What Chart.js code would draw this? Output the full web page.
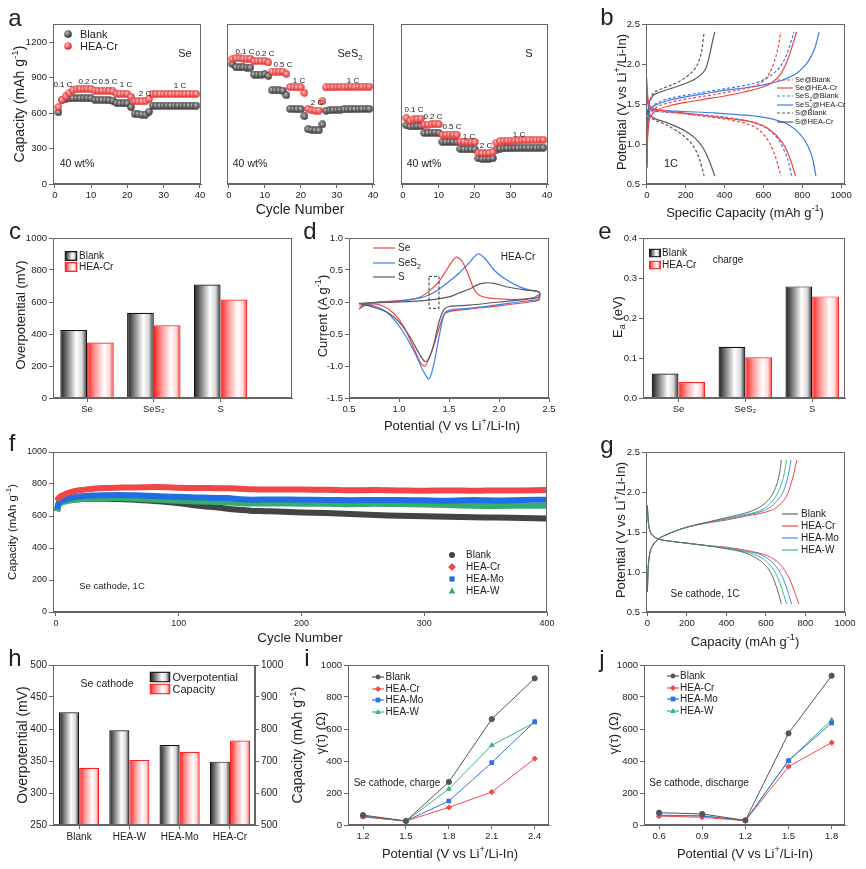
<!DOCTYPE html>
<html>
<head>
<meta charset="utf-8">
<title>HEA cathode figure</title>
<script src="https://cdn.jsdelivr.net/npm/chart.js@4.4.1/dist/chart.umd.min.js"></script>
<style>
  body { margin: 0; background: #fff; }
  #fig { position: relative; width: 866px; height: 869px; overflow: hidden; background: #fff;
         font-family: 'Liberation Sans', Arial, Helvetica, sans-serif; color: #222; }
  #fig canvas { position: absolute; }
  .t { position: absolute; white-space: nowrap; line-height: 1; transform: translate(-50%, -50%); }
  .t.rot { transform: translate(-50%, -50%) rotate(-90deg); }
  .t.left { transform: translate(0, -50%); }
  .t svg { display: block; }
  sup, sub { font-size: 70%; line-height: 0; }
</style>
</head>
<body>
<div id="fig"></div>
<script>
// ---------- data ----------
// a: rate capability (capacity vs cycle)
const rateCycles = [1,2,3,4,5,6,7,8,9,10,11,12,13,14,15,16,17,18,19,20,21,22,23,24,25,26,27,28,29,30,31,32,33,34,35,36,37,38,39];
const seBlank   = [607,714,723,725,727,728,728,727,727,726,714,712,712,711,710,705,686,684,684,683,652,596,592,589,588,613,663,663,664,664,664,664,664,664,664,664,664,664,664];
const seCr      = [652,714,742,770,795,803,805,805,806,806,792,790,790,791,792,785,765,764,764,763,740,702,700,700,701,720,763,763,763,763,763,763,763,763,763,763,763,763,763];
const ses2Blank = [1016,990,988,988,987,987,928,927,927,930,915,795,793,793,792,752,637,635,634,634,575,465,458,456,455,505,622,625,628,630,631,632,633,634,635,635,636,637,637];
const ses2Cr    = [1059,1066,1064,1063,1063,1062,1042,1042,1042,1042,1030,952,953,953,952,932,822,820,820,819,772,638,624,622,622,702,818,820,821,822,822,823,823,824,824,824,825,825,825];
const sBlank    = [497,488,488,490,490,432,433,435,436,432,356,357,357,357,355,296,295,294,294,293,217,213,212,213,218,292,300,302,303,304,305,305,306,306,306,307,307,308,308];
const sCr       = [559,536,548,551,553,503,503,506,511,505,418,418,419,419,417,360,358,357,356,355,265,262,262,263,270,350,362,364,366,367,368,369,370,371,372,372,373,374,375];

// b: charge / discharge profiles, [capacity, potential]
const bSeBlankC   = [[0,0.72],[3,1.05],[10,1.3],[25,1.4],[60,1.47],[120,1.52],[200,1.56],[300,1.6],[400,1.64],[500,1.69],[560,1.73],[600,1.79],[630,1.88],[655,2.02],[675,2.2],[690,2.4]];
const bSeCrC      = [[0,0.7],[3,1.0],[10,1.25],[25,1.36],[60,1.43],[120,1.48],[200,1.52],[300,1.56],[400,1.6],[500,1.65],[580,1.7],[640,1.76],[690,1.88],[725,2.05],[752,2.25],[770,2.4]];
const bSeS2BlankC = [[0,0.7],[3,1.1],[10,1.35],[25,1.45],[60,1.52],[120,1.57],[200,1.61],[300,1.65],[400,1.69],[500,1.73],[580,1.78],[640,1.86],[690,1.98],[725,2.15],[745,2.3],[758,2.4]];
const bSeS2CrC    = [[0,0.7],[3,1.1],[10,1.35],[25,1.45],[60,1.5],[120,1.55],[200,1.59],[300,1.63],[400,1.67],[500,1.7],[600,1.74],[700,1.8],[780,1.9],[830,2.03],[865,2.2],[887,2.4]];
const bSBlankC    = [[0,0.8],[3,1.2],[10,1.45],[25,1.6],[60,1.67],[120,1.73],[180,1.8],[220,1.87],[250,1.95],[270,2.05],[285,2.2],[295,2.4]];
const bSCrC       = [[0,0.75],[3,1.15],[10,1.45],[25,1.58],[60,1.64],[120,1.69],[180,1.74],[240,1.8],[280,1.87],[305,1.95],[322,2.1],[338,2.28],[350,2.4]];
const bSeBlankD   = [[0,1.72],[4,1.58],[12,1.48],[30,1.44],[80,1.41],[150,1.39],[250,1.36],[350,1.33],[450,1.29],[530,1.24],[580,1.17],[620,1.06],[650,0.92],[670,0.78],[690,0.6]];
const bSeCrD      = [[0,1.82],[4,1.62],[12,1.5],[30,1.45],[80,1.42],[150,1.4],[250,1.37],[350,1.34],[450,1.31],[550,1.27],[620,1.2],[670,1.1],[710,0.97],[740,0.8],[765,0.6]];
const bSeS2BlankD = [[0,1.6],[4,1.5],[12,1.45],[30,1.42],[80,1.4],[150,1.39],[250,1.37],[350,1.35],[450,1.32],[550,1.27],[620,1.19],[670,1.08],[705,0.93],[730,0.77],[745,0.6]];
const bSeS2CrD    = [[0,1.65],[4,1.52],[12,1.46],[30,1.43],[80,1.42],[150,1.41],[250,1.4],[350,1.39],[450,1.37],[550,1.35],[650,1.31],[730,1.24],[790,1.12],[830,0.97],[855,0.8],[870,0.6]];
const bSBlankD    = [[0,1.42],[5,1.37],[20,1.33],[50,1.29],[100,1.24],[150,1.17],[200,1.08],[240,0.97],[270,0.82],[295,0.6]];
const bSCrD       = [[0,1.45],[5,1.39],[20,1.35],[50,1.31],[100,1.27],[150,1.22],[200,1.16],[250,1.07],[290,0.95],[320,0.8],[350,0.6]];

// c, e: bars per cathode
const cathodes = ['Se', 'SeS\u2082', 'S'];
const overBlank = [425, 533, 709];
const overCr    = [347, 454, 615];
const eaBlank   = [0.061, 0.128, 0.279];
const eaCr      = [0.040, 0.102, 0.254];

// d: CV loops, [potential, current]
const cvSe   = [[0.6,-0.11],[0.65,-0.03],[0.8,0.0],[1.0,0.02],[1.2,0.07],[1.3,0.17],[1.4,0.32],[1.5,0.56],[1.57,0.70],[1.63,0.64],[1.7,0.40],[1.75,0.2],[1.8,0.11],[1.9,0.06],[2.0,0.05],[2.2,0.04],[2.35,0.07],[2.4,0.11],[2.4,0.03],[2.3,0.0],[2.0,-0.06],[1.7,-0.11],[1.5,-0.15],[1.45,-0.2],[1.4,-0.41],[1.35,-0.67],[1.3,-0.88],[1.26,-1.0],[1.22,-0.96],[1.15,-0.73],[1.05,-0.39],[0.95,-0.18],[0.85,-0.07],[0.75,-0.03],[0.65,-0.06],[0.6,-0.11]];
const cvSeS2 = [[0.6,-0.05],[0.8,0.0],[1.0,0.01],[1.2,0.06],[1.3,0.11],[1.4,0.2],[1.5,0.32],[1.6,0.45],[1.7,0.61],[1.79,0.75],[1.86,0.68],[1.95,0.5],[2.05,0.37],[2.2,0.24],[2.3,0.19],[2.4,0.15],[2.4,0.05],[2.3,0.02],[2.0,-0.04],[1.7,-0.1],[1.5,-0.13],[1.45,-0.2],[1.4,-0.55],[1.35,-0.96],[1.3,-1.2],[1.24,-1.07],[1.17,-0.83],[1.07,-0.54],[0.97,-0.31],[0.87,-0.15],[0.77,-0.07],[0.67,-0.04],[0.6,-0.05]];
const cvS    = [[0.6,-0.02],[1.0,0.0],[1.3,0.03],[1.5,0.08],[1.6,0.14],[1.7,0.2],[1.8,0.28],[1.87,0.3],[1.95,0.29],[2.1,0.23],[2.25,0.19],[2.4,0.16],[2.4,0.08],[2.2,0.03],[2.0,0.0],[1.7,-0.05],[1.5,-0.07],[1.45,-0.12],[1.4,-0.31],[1.35,-0.65],[1.3,-0.88],[1.26,-0.93],[1.2,-0.8],[1.1,-0.52],[1.0,-0.31],[0.9,-0.18],[0.8,-0.11],[0.7,-0.06],[0.6,-0.02]];
const cvBox  = [[1.3,0.4],[1.4,0.4],[1.4,-0.1],[1.3,-0.1],[1.3,0.4]];

// f: long cycling at 1C
const fCycles = [1,2,3,5,10,20,30,40,50,60,70,80,90,100,110,120,130,140,150,160,170,180,200,220,240,260,280,300,320,340,360,380,400];
const fBlank  = [630,672,685,693,700,706,708,708,706,703,699,694,688,680,670,661,655,645,638,632,630,628,622,618,612,606,602,598,595,592,590,587,584];
const fCr     = [695,710,718,728,745,762,770,775,777,778,779,781,780,776,775,775,774,774,770,767,766,766,765,764,761,762,760,758,760,758,760,760,762];
const fMo     = [645,680,690,697,710,723,728,730,731,730,728,725,722,720,717,715,713,712,705,702,703,703,702,700,699,700,700,698,696,700,697,700,702];
const fW      = [630,665,675,685,695,705,710,712,712,710,707,703,698,695,692,690,688,686,680,678,678,678,677,676,674,676,675,672,668,664,663,664,664];

// g: Se cathode profiles, [capacity, potential]
const gBlankC = [[0,0.75],[3,1.0],[10,1.2],[25,1.32],[50,1.4],[100,1.47],[150,1.52],[200,1.56],[300,1.62],[400,1.68],[500,1.74],[560,1.8],[600,1.87],[630,1.96],[655,2.1],[670,2.25],[678,2.4]];
const gWC     = [[0,0.75],[3,1.0],[10,1.2],[25,1.32],[50,1.4],[100,1.47],[150,1.52],[200,1.56],[300,1.62],[400,1.67],[500,1.72],[580,1.78],[630,1.88],[665,2.02],[690,2.2],[704,2.4]];
const gMoC    = [[0,0.75],[3,1.0],[10,1.2],[25,1.32],[50,1.4],[100,1.47],[150,1.52],[200,1.56],[300,1.62],[400,1.66],[500,1.71],[600,1.78],[650,1.87],[690,2.02],[712,2.2],[727,2.4]];
const gCrC    = [[0,0.75],[3,1.0],[10,1.2],[25,1.32],[50,1.4],[100,1.47],[150,1.52],[200,1.56],[300,1.61],[400,1.65],[500,1.7],[600,1.75],[660,1.82],[710,1.98],[738,2.2],[756,2.4]];
const gBlankD = [[0,1.83],[2,1.72],[6,1.6],[15,1.5],[30,1.45],[60,1.41],[100,1.39],[200,1.36],[300,1.33],[400,1.29],[480,1.25],[540,1.19],[590,1.1],[625,0.99],[648,0.85],[665,0.72],[678,0.6]];
const gWD     = [[0,1.83],[2,1.72],[6,1.6],[15,1.5],[30,1.45],[60,1.41],[100,1.39],[200,1.36],[300,1.33],[400,1.3],[480,1.26],[560,1.2],[615,1.1],[650,0.98],[672,0.85],[690,0.72],[704,0.6]];
const gMoD    = [[0,1.83],[2,1.72],[6,1.6],[15,1.5],[30,1.45],[60,1.41],[100,1.39],[200,1.36],[300,1.33],[400,1.3],[500,1.26],[580,1.21],[640,1.1],[675,0.98],[698,0.85],[715,0.72],[730,0.6]];
const gCrD    = [[0,1.83],[2,1.72],[6,1.6],[15,1.5],[30,1.45],[60,1.41],[100,1.39],[200,1.36],[300,1.33],[400,1.31],[520,1.26],[610,1.2],[670,1.1],[705,0.98],[730,0.85],[750,0.72],[766,0.6]];

// h: overpotential and capacity per catalyst
const hCats = ['Blank', 'HEA-W', 'HEA-Mo', 'HEA-Cr'];
const hOver = [426, 398, 375, 349];
const hCap  = [679, 703, 729, 764];

// i, j: DRT resistance vs potential
const iPot   = [1.2, 1.5, 1.8, 2.1, 2.4];
const iBlank = [62, 25, 269, 662, 917];
const iCr    = [52, 25, 110, 206, 415];
const iMo    = [56, 25, 150, 390, 646];
const iW     = [50, 25, 225, 498, 640];
const jPot   = [0.6, 0.9, 1.2, 1.5, 1.8];
const jBlank = [77, 69, 29, 573, 933];
const jCr    = [56, 48, 27, 365, 515];
const jMo    = [62, 56, 27, 402, 637];
const jW     = [58, 58, 28, 402, 656];

// ---------- style ----------
const FONT = "'Liberation Sans', Arial, Helvetica, sans-serif";
const AX = '#666';
const RED = '#f04646', BLUE = '#3b7ded', GRAY = '#5a5a5a', GREEN = '#35ad6c';
const K_STOPS = [[0, '#1c1c1c'], [0.25, '#7a7a7a'], [0.6, '#ffffff'], [0.82, '#d6d6d6'], [1, '#262626']];
const R_STOPS = [[0, '#ff1c1c'], [0.3, '#ff9a9a'], [0.65, '#ffffff'], [0.85, '#ffd4d4'], [1, '#ff2626']];

Chart.defaults.font.family = FONT;
const fig = document.getElementById('fig');
const P = {l: 60, t: 10, r: 24, b: 30};

// plot boxes on the page (plot-area edges)
const BOX = {
  a1: {l: 53, t: 24, r: 201, b: 184}, a2: {l: 227, t: 24, r: 374, b: 184}, a3: {l: 401, t: 24, r: 548, b: 184},
  b: {l: 646, t: 24, r: 845, b: 184},
  c: {l: 53, t: 238, r: 292, b: 398}, d: {l: 349, t: 238, r: 549, b: 398}, e: {l: 643, t: 238, r: 845, b: 398},
  f: {l: 53, t: 452, r: 547, b: 612}, g: {l: 646, t: 452, r: 845, b: 612},
  h: {l: 53, t: 665, r: 255, b: 825}, i: {l: 348, t: 665, r: 549, b: 825}, j: {l: 644, t: 665, r: 845, b: 825},
};

const frame = {
  id: 'frame',
  afterDraw(ch) {
    const a = ch.chartArea, c = ch.ctx;
    c.save();
    c.strokeStyle = AX; c.lineWidth = 1;
    c.strokeRect(Math.round(a.left) + 0.5, Math.round(a.top) + 0.5, Math.round(a.right - a.left) - 1, Math.round(a.bottom - a.top) - 1);
    c.restore();
  },
};

function axis(o) {
  return {
    type: 'linear', position: o.pos || 'bottom', min: o.min, max: o.max, offset: false,
    afterBuildTicks: s => { s.ticks = o.at.map(v => ({value: v})); },
    afterFit: s => {
      if (s.isHorizontal()) s.height = P.b;
      else s.width = o.size || P.l;
    },
    grid: {drawOnChartArea: false, offset: false, drawTicks: o.noTicks ? false : true, tickLength: 4, tickColor: AX},
    border: {color: AX, width: 1},
    ticks: {display: o.show !== false, autoSkip: false, maxRotation: 0, padding: 2, color: '#222',
            font: {family: FONT, size: o.fs || 9.5}, callback: o.fmt || (v => String(v))},
  };
}
const f1 = v => v.toFixed(1);

function mk(box, type, datasets, scales, rightW) {
  const cv = document.createElement('canvas');
  const w = box.r - box.l + P.l + (rightW || P.r);
  const h = box.b - box.t + P.t + P.b;
  cv.width = w; cv.height = h;
  cv.style.left = (box.l - P.l) + 'px'; cv.style.top = (box.t - P.t) + 'px';
  cv.style.width = w + 'px'; cv.style.height = h + 'px';
  fig.appendChild(cv);
  return new Chart(cv, {
    type,
    data: {datasets},
    options: {
      responsive: false, animation: false, events: [],
      layout: {padding: {left: 0, top: P.t, right: rightW ? 0 : P.r, bottom: 0}},
      plugins: {legend: {display: false}, tooltip: {enabled: false}},
      scales,
    },
    plugins: [frame],
  });
}

const pts = (xs, ys) => xs.map((x, i) => ({x, y: ys[i]}));
const pr = arr => arr.map(([x, y]) => ({x, y}));
const catPts = ys => ys.map((y, i) => ({x: i + 1, y}));

function curve(data, color, dash, width, tension) {
  return {data, borderColor: color, borderWidth: width || 1.2, borderDash: dash || [], pointRadius: 0,
          showLine: true, fill: false, tension: tension || 0,
          cubicInterpolationMode: tension ? 'default' : 'monotone'};
}

// cylinder-like gradient fill for grouped bars (two bars per category, 0.4 unit each)
function barFill(stops, fallback) {
  return c => {
    const ch = c.chart, xs = ch.scales.x;
    if (!xs || c.dataIndex == null) return fallback;
    const unit = Math.abs(xs.getPixelForValue(2) - xs.getPixelForValue(1));
    const w = unit * 0.4;
    const cx = xs.getPixelForValue(c.dataIndex + 1) + (c.datasetIndex === 0 ? -w / 2 : w / 2);
    if (!isFinite(cx)) return fallback;
    const g = ch.ctx.createLinearGradient(cx - w / 2, 0, cx + w / 2, 0);
    stops.forEach(([o, col]) => g.addColorStop(o, col));
    return g;
  };
}
function barSet(values, stops, border, fallback, yAxisID) {
  return {data: catPts(values), backgroundColor: barFill(stops, fallback), borderColor: border, borderWidth: 1.2,
          borderSkipped: 'bottom', categoryPercentage: 0.8, barPercentage: 1, yAxisID: yAxisID || 'y'};
}

function ball(dark, light) {
  const s = 8, cv = document.createElement('canvas');
  cv.width = s; cv.height = s;
  const x = cv.getContext('2d');
  const g = x.createRadialGradient(s * 0.38, s * 0.35, 0.3, s / 2, s / 2, s / 2);
  g.addColorStop(0, light); g.addColorStop(1, dark);
  x.fillStyle = g; x.beginPath(); x.arc(s / 2, s / 2, s / 2 - 0.3, 0, Math.PI * 2); x.fill();
  return cv;
}
const ballK = ball('#262626', '#bdbdbd');
const ballR = ball('#e01e1e', '#ffc0c0');

// ---------- charts ----------
// a
const aY = show => axis({pos: 'left', min: 0, max: 1356, at: [0, 300, 600, 900, 1200], show, noTicks: !show});
const aX = () => axis({min: -0.5, max: 40.3, at: [0, 10, 20, 30, 40]});
const rateSets = (blank, cr) => [
  {data: pts(rateCycles, cr), pointStyle: ballR, showLine: false},
  {data: pts(rateCycles, blank), pointStyle: ballK, showLine: false},
];
mk(BOX.a1, 'scatter', rateSets(seBlank, seCr), {x: aX(), y: aY(true)});
mk(BOX.a2, 'scatter', rateSets(ses2Blank, ses2Cr), {x: aX(), y: aY(false)});
mk(BOX.a3, 'scatter', rateSets(sBlank, sCr), {x: aX(), y: aY(false)});

// b
mk(BOX.b, 'scatter', [
  curve(pr(bSeBlankC), RED, [3, 2]), curve(pr(bSeBlankD), RED, [3, 2]),
  curve(pr(bSeCrC), RED), curve(pr(bSeCrD), RED),
  curve(pr(bSeS2BlankC), BLUE, [3, 2]), curve(pr(bSeS2BlankD), BLUE, [3, 2]),
  curve(pr(bSeS2CrC), BLUE), curve(pr(bSeS2CrD), BLUE),
  curve(pr(bSBlankC), GRAY, [3, 2]), curve(pr(bSBlankD), GRAY, [3, 2]),
  curve(pr(bSCrC), GRAY), curve(pr(bSCrD), GRAY),
], {
  x: axis({min: -4, max: 1020, at: [0, 200, 400, 600, 800, 1000]}),
  y: axis({pos: 'left', min: 0.5, max: 2.5, at: [0.5, 1.0, 1.5, 2.0, 2.5], fmt: f1}),
});

// c
const catFmt = labels => v => labels[v - 1] || '';
mk(BOX.c, 'bar', [
  barSet(overBlank, K_STOPS, '#111', '#999'),
  barSet(overCr, R_STOPS, '#ff2020', '#fbb'),
], {
  x: axis({min: 0.49, max: 4.07, at: [1, 2, 3], fmt: catFmt(cathodes)}),
  y: axis({pos: 'left', min: 0, max: 1000, at: [0, 200, 400, 600, 800, 1000]}),
});

// d
mk(BOX.d, 'scatter', [
  Object.assign(curve(pr(cvBox), '#333', [3, 2], 1), {cubicInterpolationMode: 'default'}),
  curve(pr(cvS), GRAY, null, 1.2, 0.3),
  curve(pr(cvSeS2), BLUE, null, 1.2, 0.3),
  curve(pr(cvSe), RED, null, 1.2, 0.3),
], {
  x: axis({min: 0.5, max: 2.5, at: [0.5, 1.0, 1.5, 2.0, 2.5], fmt: f1}),
  y: axis({pos: 'left', min: -1.5, max: 1.0, at: [-1.5, -1.0, -0.5, 0, 0.5, 1.0], fmt: f1}),
});

// e
mk(BOX.e, 'bar', [
  barSet(eaBlank, K_STOPS, '#111', '#999'),
  barSet(eaCr, R_STOPS, '#ff2020', '#fbb'),
], {
  x: axis({min: 0.47, max: 3.49, at: [1, 2, 3], fmt: catFmt(cathodes)}),
  y: axis({pos: 'left', min: 0, max: 0.4, at: [0, 0.1, 0.2, 0.3, 0.4], fmt: f1}),
});

// f
const band = (ys, color) => ({data: pts(fCycles, ys), borderColor: color, borderWidth: 6, pointRadius: 0,
                               showLine: true, tension: 0.3});
mk(BOX.f, 'scatter', [
  band(fCr, RED), band(fMo, '#1f6fe3'), band(fW, GREEN), band(fBlank, '#444'),
], {
  x: axis({min: -2.4, max: 400, at: [0, 100, 200, 300, 400], fs: 9}),
  y: axis({pos: 'left', min: 0, max: 1000, at: [0, 200, 400, 600, 800, 1000], fs: 9}),
});

// g
const G_BLANK = '#666', G_MO = '#4a8af0', G_W = '#3bbf86';
mk(BOX.g, 'scatter', [
  curve(pr(gBlankC), G_BLANK, null, 1), curve(pr(gBlankD), G_BLANK, null, 1),
  curve(pr(gWC), G_W, null, 1), curve(pr(gWD), G_W, null, 1),
  curve(pr(gMoC), G_MO, null, 1), curve(pr(gMoD), G_MO, null, 1),
  curve(pr(gCrC), RED, null, 1), curve(pr(gCrD), RED, null, 1),
], {
  x: axis({min: -7, max: 1000, at: [0, 200, 400, 600, 800, 1000]}),
  y: axis({pos: 'left', min: 0.5, max: 2.5, at: [0.5, 1.0, 1.5, 2.0, 2.5], fmt: f1}),
});

// h (two value axes)
mk(BOX.h, 'bar', [
  barSet(hOver, K_STOPS, '#111', '#999', 'y'),
  barSet(hCap, R_STOPS, '#ff2020', '#fbb', 'y2'),
], {
  x: axis({min: 0.48, max: 4.5, at: [1, 2, 3, 4], fmt: catFmt(hCats), fs: 10}),
  y: axis({pos: 'left', min: 250, max: 500, at: [250, 300, 350, 400, 450, 500], fs: 10}),
  y2: axis({pos: 'right', min: 500, max: 1000, at: [500, 600, 700, 800, 900, 1000], size: 45, fs: 10}),
}, 45);

// i, j
const drt = (xs, ys, color, style) => ({data: pts(xs, ys), borderColor: color, backgroundColor: color, borderWidth: 1,
                                        pointStyle: style, pointRadius: 2.6, showLine: true, tension: 0});
const DRT_K = '#555', DRT_R = '#f24b4b', DRT_B = '#2f72e6', DRT_G = '#3cb27a';
mk(BOX.i, 'scatter', [
  drt(iPot, iBlank, DRT_K, 'circle'), drt(iPot, iCr, DRT_R, 'rectRot'),
  drt(iPot, iMo, DRT_B, 'rect'), drt(iPot, iW, DRT_G, 'triangle'),
], {
  x: axis({min: 1.095, max: 2.5, at: [1.2, 1.5, 1.8, 2.1, 2.4], fmt: f1}),
  y: axis({pos: 'left', min: 0, max: 1000, at: [0, 200, 400, 600, 800, 1000]}),
});
mk(BOX.j, 'scatter', [
  drt(jPot, jBlank, DRT_K, 'circle'), drt(jPot, jCr, DRT_R, 'rectRot'),
  drt(jPot, jMo, DRT_B, 'rect'), drt(jPot, jW, DRT_G, 'triangle'),
], {
  x: axis({min: 0.495, max: 1.893, at: [0.6, 0.9, 1.2, 1.5, 1.8], fmt: f1}),
  y: axis({pos: 'left', min: 0, max: 1000, at: [0, 200, 400, 600, 800, 1000]}),
});

// ---------- text and legends ----------
function T(x, y, html, size, cls) {
  const d = document.createElement('div');
  d.className = 't' + (cls ? ' ' + cls : '');
  d.style.left = x + 'px'; d.style.top = y + 'px';
  if (size) d.style.fontSize = size + 'px';
  d.innerHTML = html;
  fig.appendChild(d);
}
let uid = 0;
function shape(kind, x, y, r, color) {
  if (kind === 'circle') return `<circle cx="${x}" cy="${y}" r="${r}" fill="${color}"/>`;
  if (kind === 'rect') return `<rect x="${x - r}" y="${y - r}" width="${2 * r}" height="${2 * r}" fill="${color}"/>`;
  if (kind === 'rectRot') return `<polygon points="${x},${y - r * 1.3} ${x + r * 1.3},${y} ${x},${y + r * 1.3} ${x - r * 1.3},${y}" fill="${color}"/>`;
  return `<polygon points="${x},${y - r * 1.2} ${x + r * 1.15},${y + r * 0.85} ${x - r * 1.15},${y + r * 0.85}" fill="${color}"/>`;
}
const svgMark = (kind, color, r) => { const s = 2 * r + 5; return `<svg width="${s}" height="${s}">${shape(kind, s / 2, s / 2, r, color)}</svg>`; };
function svgBall(dark, light) {
  const id = 'g' + (uid++);
  return `<svg width="9" height="9"><defs><radialGradient id="${id}" cx="38%" cy="35%" r="65%"><stop offset="0" stop-color="${light}"/><stop offset="1" stop-color="${dark}"/></radialGradient></defs><circle cx="4.5" cy="4.5" r="3.8" fill="url(#${id})"/></svg>`;
}
function svgBar(stops, stroke, w, h) {
  const id = 'g' + (uid++);
  const st = stops.map(([o, c]) => `<stop offset="${o}" stop-color="${c}"/>`).join('');
  return `<svg width="${w}" height="${h}"><defs><linearGradient id="${id}" x1="0" x2="1" y1="0" y2="0">${st}</linearGradient></defs><rect x="0.7" y="0.7" width="${w - 1.4}" height="${h - 1.4}" fill="url(#${id})" stroke="${stroke}" stroke-width="1.3"/></svg>`;
}
function svgLine(w, color, dash, marker) {
  let s = `<svg width="${w}" height="8"><line x1="0" y1="4" x2="${w}" y2="4" stroke="${color}" stroke-width="1.2"${dash ? ` stroke-dasharray="${dash}"` : ''}/>`;
  if (marker) s += shape(marker, w / 2, 4, 2.4, color);
  return s + '</svg>';
}

const CAP = 'Capacity (mAh g<sup>-1</sup>)';
const POT = 'Potential (V vs Li<sup>+</sup>/Li-In)';

// panel letters
[['a', 15, 18], ['b', 607, 17], ['c', 15, 231], ['d', 310, 231], ['e', 605, 231], ['f', 12, 443],
 ['g', 607, 445], ['h', 15, 658], ['i', 307, 658], ['j', 602, 659]].forEach(([s, x, y]) => T(x, y, s, 24));

// a
T(19, 104, CAP, 14, 'rot');
T(300, 209, 'Cycle Number', 14);
T(68, 34, svgBall('#262626', '#bdbdbd')); T(80, 34, 'Blank', 11, 'left');
T(68, 46, svgBall('#e01e1e', '#ffc0c0')); T(80, 46, 'HEA-Cr', 11, 'left');
T(185, 53, 'Se', 11); T(350, 53, 'SeS<sub>2</sub>', 11); T(529, 53, 'S', 11);
T(77, 163, '40 wt%', 10.5); T(250, 163, '40 wt%', 10.5); T(424, 163, '40 wt%', 10.5);
[['0.1 C', 63, 85], ['0.2 C', 88, 82], ['0.5 C', 108, 82], ['1 C', 126, 85], ['2 C', 145, 94], ['1 C', 180, 86],
 ['0.1 C', 245, 52], ['0.2 C', 265, 54], ['0.5 C', 283, 65], ['1 C', 299, 81], ['2 C', 317, 103], ['1 C', 353, 81],
 ['0.1 C', 414, 110], ['0.2 C', 433, 117], ['0.5 C', 452, 127], ['1 C', 469, 137], ['2 C', 486, 146], ['1 C', 519, 135]]
  .forEach(([s, x, y]) => T(x, y, s, 8));

// b
T(621, 102, POT, 13, 'rot');
T(745, 212, 'Specific Capacity (mAh g<sup>-1</sup>)', 13);
[['Se@Blank', RED, '3 2'], ['Se@HEA-Cr', RED, null], ['SeS<sub>2</sub>@Blank', BLUE, '3 2'],
 ['SeS<sub>2</sub>@HEA-Cr', BLUE, null], ['S@Blank', GRAY, '3 2'], ['S@HEA-Cr', GRAY, null]]
  .forEach(([s, col, dash], k) => {
    const y = 79.5 + k * 8.4;
    T(785, y, svgLine(16, col, dash));
    T(795, y, s, 7.5, 'left');
  });
T(671, 163, '1C', 11);

// c
T(20, 315, 'Overpotential (mV)', 13, 'rot');
T(71, 256, svgBar(K_STOPS, '#111', 13, 10)); T(79, 256, 'Blank', 10, 'left');
T(71, 267, svgBar(R_STOPS, '#ff2020', 13, 10)); T(79, 267, 'HEA-Cr', 10, 'left');

// d
T(322, 316, 'Current (A g<sup>-1</sup>)', 13, 'rot');
T(452, 425, POT, 13);
T(384, 248, svgLine(22, RED)); T(398, 248, 'Se', 10, 'left');
T(384, 263, svgLine(22, BLUE)); T(398, 263, 'SeS<sub>2</sub>', 10, 'left');
T(384, 277, svgLine(22, GRAY)); T(398, 277, 'S', 10, 'left');
T(518, 257, 'HEA-Cr', 10);

// e
T(617, 317, 'E<sub>a</sub> (eV)', 13, 'rot');
T(655, 253, svgBar(K_STOPS, '#111', 12, 9)); T(662, 253, 'Blank', 10, 'left');
T(655, 265, svgBar(R_STOPS, '#ff2020', 12, 9)); T(662, 265, 'HEA-Cr', 10, 'left');
T(728, 260, 'charge', 10);

// f
T(13, 532, CAP, 11.5, 'rot');
T(300, 638, 'Cycle Number', 13.5);
T(452, 555, svgMark('circle', '#444', 3)); T(466, 555, 'Blank', 10, 'left');
T(452, 567, svgMark('rectRot', RED, 3)); T(466, 567, 'HEA-Cr', 10, 'left');
T(452, 579, svgMark('rect', '#1f6fe3', 2.6)); T(466, 579, 'HEA-Mo', 10, 'left');
T(452, 591, svgMark('triangle', GREEN, 3)); T(466, 591, 'HEA-W', 10, 'left');
T(112, 586, 'Se cathode, 1C', 9.5);

// g
T(620, 530, POT, 13, 'rot');
T(745, 641, CAP, 13);
[['Blank', G_BLANK], ['HEA-Cr', RED], ['HEA-Mo', G_MO], ['HEA-W', G_W]].forEach(([s, col], k) => {
  const y = 513.5 + k * 12.2;
  T(790, y, svgLine(16, col));
  T(801, y, s, 10, 'left');
});
T(705, 594, 'Se cathode, 1C', 10);

// h
T(22, 745, 'Overpotential (mV)', 14, 'rot');
T(297, 745, CAP, 14, 'rot');
T(159.5, 677, svgBar(K_STOPS, '#111', 21, 11)); T(172.5, 677, 'Overpotential', 11, 'left');
T(159.5, 689, svgBar(R_STOPS, '#ff2020', 21, 11)); T(172.5, 689, 'Capacity', 11, 'left');
T(107, 683, 'Se cathode', 10.5);

// i, j
const drtLegend = (lx, tx, y0, dy) => {
  [['Blank', DRT_K, 'circle'], ['HEA-Cr', DRT_R, 'rectRot'], ['HEA-Mo', DRT_B, 'rect'], ['HEA-W', DRT_G, 'triangle']]
    .forEach(([s, col, m], k) => {
      const y = y0 + k * dy;
      T(lx, y, svgLine(12, col, null, m));
      T(tx, y, s, 10, 'left');
    });
};
T(320, 733, '\u03b3(\u03c4) (\u03a9)', 13, 'rot');
T(450, 853, POT, 13);
drtLegend(377.5, 385.5, 676.7, 11.8);
T(397, 782.7, 'Se cathode, charge', 10);

T(613, 733, '\u03b3(\u03c4) (\u03a9)', 13, 'rot');
T(745, 853, POT, 13);
drtLegend(672.5, 680, 675.7, 11.8);
T(699, 782.7, 'Se cathode, discharge', 10);
</script>
</body>
</html>
